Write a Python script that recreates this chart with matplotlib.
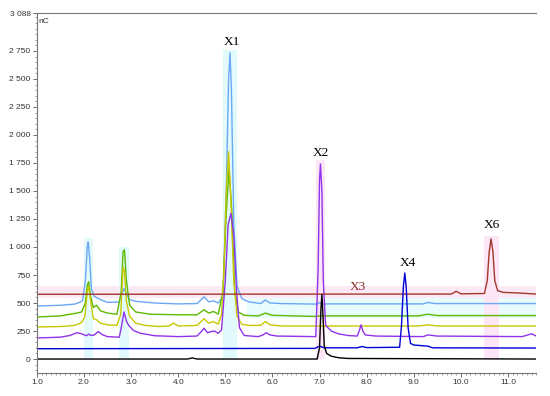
import numpy as np
import matplotlib
matplotlib.use("Agg")
import matplotlib.pyplot as plt
from matplotlib.ticker import MultipleLocator, FixedLocator

# chromatogram traces (retention time [min], signal [nC])
black_t = [1.0, 4.2, 4.3, 4.4, 6.95, 7.0, 7.03, 7.05, 7.07, 7.1, 7.15, 7.25, 7.4, 7.6, 11.6]
black_y = [0, 0, 10, 0, 0, 100, 450, 575, 420, 120, 50, 25, 12, 5, 0]

blue_t = [1.0, 6.9, 7.0, 7.1, 7.8, 7.9, 8.0, 8.7, 8.74, 8.78, 8.81, 8.84, 8.88, 8.93,
          9.0, 9.3, 9.4, 11.6]
blue_y = [92, 95, 115, 100, 100, 112, 102, 105, 300, 650, 768, 640, 280, 140,
          125, 115, 100, 98]

purple_t = [1.0, 1.5, 1.7, 1.85, 1.95, 2.05, 2.1, 2.15, 2.22, 2.3, 2.4, 2.5, 2.75, 2.8,
            2.85, 2.9, 2.95, 3.05, 3.2, 3.5, 4.0, 4.4, 4.5, 4.55, 4.62, 4.7, 4.77, 4.85,
            4.92, 5.0, 5.06, 5.12, 5.18, 5.24, 5.3, 5.4, 5.7, 5.8, 5.87, 5.95, 6.1, 6.92,
            6.97, 7.0, 7.02, 7.05, 7.08, 7.13, 7.25, 7.4, 7.6, 7.8, 7.85, 7.88, 7.92, 7.97,
            8.2, 9.2, 9.3, 9.5, 11.3, 11.5, 11.6]
purple_y = [188, 195, 210, 235, 225, 208, 222, 210, 215, 245, 215, 200, 195, 300,
            420, 340, 300, 255, 230, 208, 200, 205, 250, 275, 235, 245, 250, 230,
            260, 700, 1200, 1300, 1100, 600, 280, 210, 200, 215, 235, 215, 205, 200,
            800, 1600, 1741, 1500, 700, 300, 250, 225, 210, 205, 260, 305, 250, 215,
            205, 200, 215, 205, 200, 225, 205]

yellow_t = [1.0, 1.5, 1.8, 1.95, 2.02, 2.07, 2.1, 2.14, 2.2, 2.27, 2.35, 2.5, 2.7, 2.78,
            2.83, 2.86, 2.9, 2.97, 3.1, 3.3, 3.6, 3.8, 3.9, 4.0, 4.4, 4.55, 4.65, 4.75,
            4.85, 4.92, 4.97, 5.02, 5.07, 5.12, 5.18, 5.25, 5.35, 5.5, 5.75, 5.85, 5.95,
            6.2, 9.1, 9.3, 9.5, 11.6]
yellow_y = [286, 290, 300, 325, 380, 600, 650, 520, 360, 350, 320, 305, 300, 400,
            820, 780, 520, 380, 320, 300, 290, 295, 320, 295, 300, 360, 320, 335,
            310, 400, 760, 1500, 1850, 1400, 700, 380, 310, 300, 300, 335, 305,
            295, 295, 305, 295, 295]

green_t = [1.0, 1.5, 1.85, 1.95, 2.03, 2.07, 2.1, 2.14, 2.2, 2.27, 2.35, 2.5, 2.7, 2.79,
           2.83, 2.86, 2.9, 2.97, 3.1, 3.4, 4.0, 4.4, 4.55, 4.65, 4.75, 4.85, 4.95, 5.02,
           5.08, 5.14, 5.2, 5.28, 5.4, 5.7, 5.85, 6.0, 6.9, 7.0, 9.1, 9.3, 9.5, 11.6]
green_y = [375, 385, 410, 420, 500, 660, 690, 560, 460, 480, 430, 410, 400, 600,
           960, 975, 700, 480, 420, 400, 395, 395, 440, 410, 425, 400, 600, 1300,
           1700, 1300, 600, 420, 390, 385, 410, 390, 380, 385, 385, 400, 388, 388]

lblue_t = [1.0, 1.5, 1.8, 1.9, 1.97, 2.03, 2.07, 2.09, 2.12, 2.16, 2.22, 2.3, 2.5, 2.75,
           2.8, 2.85, 2.9, 2.97, 3.1, 3.5, 4.0, 4.4, 4.55, 4.65, 4.75, 4.85, 4.95, 5.02,
           5.07, 5.1, 5.13, 5.18, 5.25, 5.35, 5.5, 5.75, 5.85, 5.95, 6.2, 6.95, 7.0, 7.05,
           9.2, 9.3, 9.45, 11.6]
lblue_y = [473, 480, 490, 505, 520, 700, 1000, 1045, 900, 620, 560, 540, 505, 510,
           580, 630, 580, 530, 515, 500, 492, 495, 555, 510, 520, 500, 560, 1500,
           2500, 2733, 2400, 1200, 650, 540, 510, 495, 527, 500, 495, 490, 505, 492,
           492, 505, 495, 495]

brown_t = [1.0, 9.8, 9.9, 10.0, 10.5, 10.56, 10.6, 10.64, 10.68, 10.72, 10.78, 10.9, 11.2, 11.6]
brown_y = [578, 580, 605, 582, 585, 700, 950, 1072, 960, 700, 610, 595, 590, 580]

peak_names = ["X1", "X2", "X3", "X4", "X6"]
peak_label_t = [5.14, 7.03, 7.82, 8.88, 10.66]
peak_label_y = [2830, 1840, 640, 860, 1200]

y_ticks = [0, 250, 500, 750, 1000, 1250, 1500, 1750, 2000, 2250, 2500, 2750, 3088]
x_ticks = [1.0, 2.0, 3.0, 4.0, 5.0, 6.0, 7.0, 8.0, 9.0, 10.0, 11.0]

fig = plt.figure(figsize=(5.5, 3.96), dpi=100)
ax = fig.add_axes([0.067, 0.058, 0.908, 0.909])

# faint highlight shading seen behind the traces
ax.axhspan(545, 650, color="#fde8f6", lw=0, zorder=0)
ax.axhspan(370, 545, xmin=0.42, color="#e8fbfd", lw=0, zorder=0)
for t0, t1, top, c in [(4.95, 5.25, 2760, "#e3fafd"), (6.93, 7.12, 1780, "#fde6f6"),
                       (10.5, 10.8, 1100, "#fde6f6"), (2.0, 2.2, 1080, "#e3fafd"),
                       (2.75, 2.95, 1000, "#e3fafd")]:
    ax.fill_between([t0, t1], 0, top, color=c, lw=0, zorder=0)

lw = 1.0
ax.plot(lblue_t, lblue_y, color="#6aa8f5", lw=lw)
ax.plot(green_t, green_y, color="#5cb800", lw=lw)
ax.plot(yellow_t, yellow_y, color="#c8c800", lw=lw)
ax.plot(purple_t, purple_y, color="#9033ea", lw=lw)
ax.plot(brown_t, brown_y, color="#a0382c", lw=lw)
ax.plot(blue_t, blue_y, color="#0000d8", lw=lw)
ax.plot(black_t, black_y, color="#000000", lw=lw)

for name, t, y in zip(peak_names, peak_label_t, peak_label_y):
    ax.text(t, y, name, ha="center", va="center", family="Liberation Serif", fontsize=9.5,
            color="#8a2a2a" if name == "X3" else "black")

ax.text(0.004, 0.985, "nC", transform=ax.transAxes, ha="left", va="top",
        family="Liberation Sans", fontsize=6, color="#333333")

ax.set_xlim(1.0, 11.6)
ax.set_ylim(-125, 3088)
ax.yaxis.set_major_locator(FixedLocator(y_ticks))
ax.set_yticklabels([f"{v:,}".replace(",", " ") for v in y_ticks])
ax.yaxis.set_minor_locator(MultipleLocator(50))
ax.xaxis.set_major_locator(FixedLocator(x_ticks))
ax.set_xticklabels([f"{v:.1f}" for v in x_ticks])
ax.xaxis.set_minor_locator(MultipleLocator(0.1))

for lab in ax.get_xticklabels() + ax.get_yticklabels():
    lab.set_family("Liberation Sans")
    lab.set_fontsize(6)
    lab.set_color("#333333")
ax.tick_params(which="major", length=3, width=0.6, color="#555555", pad=1.5)
ax.tick_params(which="minor", length=1.5, width=0.5, color="#777777")

ax.spines["right"].set_visible(False)
for s in ["left", "bottom", "top"]:
    ax.spines[s].set_color("#777777")
    ax.spines[s].set_linewidth(0.8)

fig.savefig("out.png", dpi=100)
